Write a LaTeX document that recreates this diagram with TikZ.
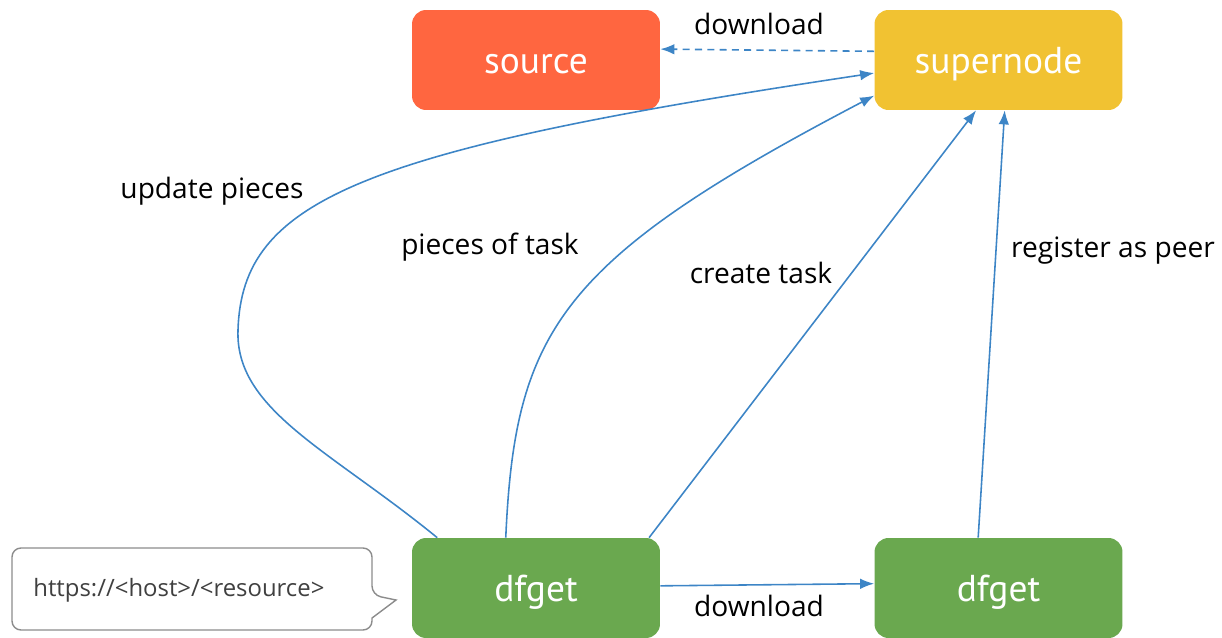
\documentclass[tikz,border=0pt]{standalone}
\usepackage{fontspec}
\setmainfont{Open Sans}
\newfontfamily\boxfont{PT Sans}
\usetikzlibrary{arrows.meta}

\definecolor{srcred}{HTML}{FF6640}
\definecolor{snyellow}{HTML}{F1C232}
\definecolor{dfgreen}{HTML}{6AA84F}
\definecolor{linkblue}{HTML}{3D85C6}

\begin{document}
\begin{tikzpicture}[> = {Latex[length=8pt,width=6pt]}, x=0.02cm, y=-0.02cm,
  box/.style={rounded corners=0.28cm, minimum width=4.96cm, minimum height=2cm,
    text height=15pt, text depth=0pt,
    text=white, font=\boxfont\fontsize{21.3}{24}\selectfont},
  link/.style={linkblue, line width=0.9pt, ->},
  lbl/.style={inner sep=0pt, font=\fontsize{16}{19}\selectfont}]
\useasboundingbox (0,0) rectangle (1222,638);

\node[box,fill=srcred]   (src) at (536,60)    {source};
\node[box,fill=snyellow] (sn)  at (998.5,60)  {supernode};
\node[box,fill=dfgreen]  (dfa) at (536,588)   {dfget};
\node[box,fill=dfgreen]  (dfb) at (998.5,588) {dfget};

% callout with the url
\draw[gray!90,line width=0.8pt,rounded corners=0.18cm] (12,548) -- (372,548) -- (372,595)
  [sharp corners] -- (396,600) -- (372,618) [rounded corners=0.18cm] -- (372,630) -- (12,630) -- cycle;
\node[anchor=west,inner sep=0pt,text=black!75,font=\fontsize{13.6}{16}\selectfont] (url) at (33,590) {https://<host>/<resource>};

\draw[link,dash pattern=on 4pt off 3pt] (sn.176) -- (src.5);
\draw[link] (dfa.1) -- (dfb.178);
\draw[link] (dfa.153) .. controls (330,450) and (235,410) .. (238,330)
  .. controls (242,200) and (360,150) .. (sn.186);
\draw[link] (dfa.121) .. controls (515,330) and (560,260) .. (sn.196);
\draw[link] (dfa.24.5) -- (sn.246);
\draw[link] (dfb.112.5) -- (sn.277);

\node[lbl] (ldl1) at (759,24)  {download};
\node[lbl] (ldl2) at (759,606) {download};
\node[lbl] (lup)  at (212,191) {update pieces};
\node[lbl] (lpt)  at (490,247) {pieces of task};
\node[lbl] (lct)  at (761,273) {create task};
\node[lbl] (lreg) at (1113,251) {register as peer};
\end{tikzpicture}
\end{document}
